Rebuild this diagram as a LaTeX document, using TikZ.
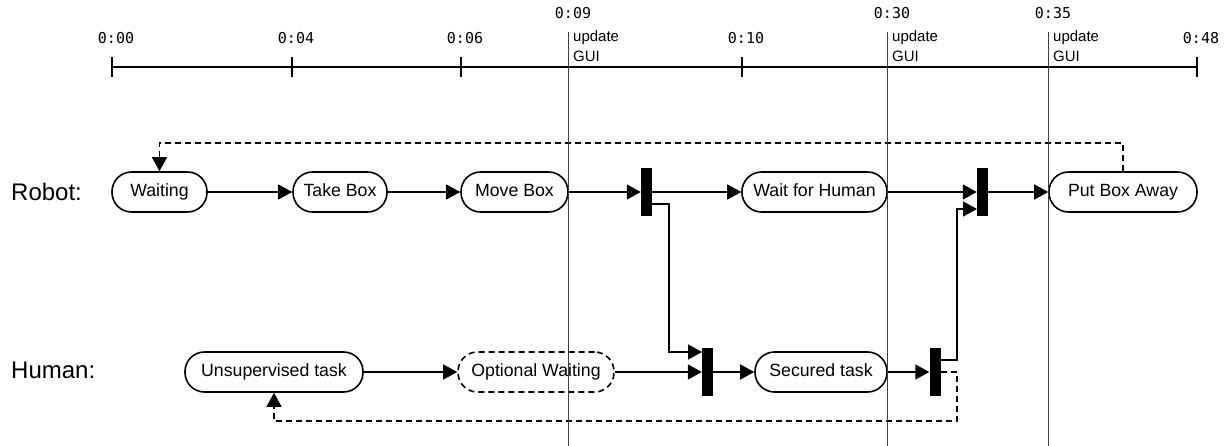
\documentclass[tikz,border=0pt]{standalone}
\usepackage{fontspec}
\setmainfont{Liberation Sans}
\newfontfamily\monofont{DejaVu Sans Mono}
\usetikzlibrary{arrows.meta}

\tikzset{
  act/.style={draw, line width=1.6pt, rounded corners=19.5pt, minimum height=40pt,
    inner sep=0pt, fill=white, text height=12.5pt, text depth=3.5pt,
    font=\fontsize{17.7}{20}\selectfont},
  optact/.style={act, dash pattern=on 6pt off 4pt},
  syncbar/.style={fill=black, minimum width=11pt, minimum height=48pt, inner sep=0pt},
  flow/.style={line width=1.5pt, -{Triangle[length=14pt,width=15pt]}},
  dflow/.style={flow, dash pattern=on 6pt off 4pt},
  lane/.style={anchor=west, inner sep=0pt, font=\fontsize{24}{27}\selectfont},
  timelbl/.style={inner sep=0pt, font=\monofont\fontsize{15}{18}\selectfont},
  gui/.style={anchor=base west, inner sep=0pt, font=\fontsize{15}{18}\selectfont},
  axis/.style={line width=1.8pt},
  marker/.style={line width=1pt, draw=black!75},
}

\begin{document}
\begin{tikzpicture}[x=1pt, y=-1pt]
  \useasboundingbox (0,0) rectangle (1230,446);

  % time axis with ticks and labels
  \draw[axis] (112,67) -- (1197,67);
  \foreach \tx/\lbl in {112/0:00, 292/0:04, 461/0:06, 742/0:10, 1197/0:48} {
    \draw[axis] (\tx,57) -- (\tx,77);
    \node[timelbl] at (\tx+4,38.5) {\lbl};
  }

  % swimlane labels
  \node[lane] (robotlbl) at (11,192) {Robot:};
  \node[lane] (humanlbl) at (11,370) {Human:};

  % robot activities
  \node[act, minimum width=95pt]  (waiting) at (159.5,192) {Waiting};
  \node[act, minimum width=94pt]  (take)    at (340,192)   {Take Box};
  \node[act, minimum width=107pt] (move)    at (514.5,192) {Move Box};
  \node[syncbar]                  (bar1)    at (646.5,192) {};
  \node[act, minimum width=145pt] (waith)   at (814.5,192) {Wait for Human};
  \node[syncbar]                  (bar2)    at (982.5,192) {};
  \node[act, minimum width=148pt] (put)     at (1123,192)  {Put Box Away};

  % human activities
  \node[act, minimum width=178pt]    (unsup) at (274,372)   {Unsupervised task};
  \node[optact, minimum width=156pt] (opt)   at (536,372)   {Optional Waiting};
  \node[syncbar]                     (bar3)  at (707.5,372) {};
  \node[act, minimum width=132pt]    (sec)   at (821,372)   {Secured task};
  \node[syncbar]                     (bar4)  at (935,372)   {};

  % routing points
  \coordinate (b1out) at (652,204);
  \coordinate (j1a) at (669,204);
  \coordinate (j1b) at (669,352);
  \coordinate (b3in) at (702,352);
  \coordinate (b4out) at (941,360);
  \coordinate (j2a) at (957,360);
  \coordinate (j2b) at (957,209);
  \coordinate (b2in) at (977,209);
  \coordinate (d1) at (1123,143);
  \coordinate (d2) at (159.5,143);
  \coordinate (e1) at (957,372);
  \coordinate (e2) at (957,421);
  \coordinate (e3) at (274,421);

  % robot flow
  \draw[flow] (waiting.east) -- (take.west);
  \draw[flow] (take.east) -- (move.west);
  \draw[flow] (move.east) -- (bar1.west);
  \draw[flow] (bar1.east) -- (waith.west);
  \draw[flow] (waith.east) -- (bar2.west);
  \draw[flow] (bar2.east) -- (put.west);

  % human flow
  \draw[flow] (unsup.east) -- (opt.west);
  \draw[flow] (opt.east) -- (bar3.west);
  \draw[flow] (bar3.east) -- (sec.west);
  \draw[flow] (sec.east) -- (bar4.west);

  % synchronisation between lanes
  \draw[flow] (b1out) -- (j1a) -- (j1b) -- (b3in);
  \draw[flow] (b4out) -- (j2a) -- (j2b) -- (b2in);

  % loops back to the start
  \draw[dflow] (put.north) -- (d1) -- (d2) -- (waiting.north);
  \draw[dflow] (bar4.east) -- (e1) -- (e2) -- (e3) -- (unsup.south);

  % GUI update markers
  \foreach \mx/\lbl in {568/0:09, 887/0:30, 1048/0:35} {
    \draw[marker] (\mx,32) -- (\mx,446);
    \node[timelbl] at (\mx+5,13.5) {\lbl};
    \node[gui] at (\mx+5,42) {update};
    \node[gui] at (\mx+5,62) {GUI};
  }
\end{tikzpicture}
\end{document}
